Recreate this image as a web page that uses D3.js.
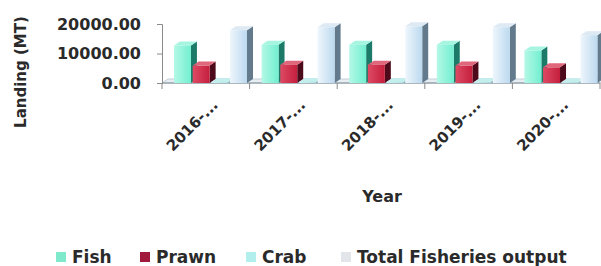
<!DOCTYPE html>
<html>
<head>
<meta charset="utf-8">
<script src="https://cdn.jsdelivr.net/npm/d3@7"></script>
<style>
    body { margin: 0; background: #fff; }
    svg text { font-family: "DejaVu Sans", sans-serif; font-weight: bold; fill: #2a2a2a; }
</style>
</head>
<body>
<div id="chart"></div>
<script>
// Data
const years = ["2016-...", "2017-...", "2018-...", "2019-...", "2020-..."];
const fish = [12700, 13000, 13000, 13000, 11000];
const prawn = [5900, 6200, 6200, 5900, 5300];
const crab = [350, 320, 330, 300, 280];
const total = [17900, 18900, 19200, 18900, 16200];
const yTicks = [0, 10000, 20000];

const series = [
    { name: "Fish", values: fish, front: "#72efd0", light: "#b4f8e6", side: "#1c7a68", top: "#a6f5e0", legend: "#7fe9cc" },
    { name: "Prawn", values: prawn, front: "#c41f3d", light: "#de4a63", side: "#4c0a1a", top: "#e0667c", legend: "#a0183a" },
    { name: "Crab", values: crab, front: "#a8e6e6", light: "#d0f4f4", side: "#6a9ea6", top: "#c4eeee", legend: "#b2eeec" },
    { name: "Total Fisheries output", values: total, front: "#bcd9ef", light: "#eef6fc", side: "#627a8c", top: "#dde9f3", legend: "#e2e6ea" }
];

const width = 601, height = 266;
const dx = 6, dy = -4; // 3D depth offset

const svg = d3.select("#chart").append("svg")
    .attr("width", width)
    .attr("height", height);

const defs = svg.append("defs");
series.forEach((s, i) => {
    const g = defs.append("linearGradient")
        .attr("id", "grad" + i)
        .attr("x1", "0%").attr("x2", "100%");
    g.append("stop").attr("offset", "0%").attr("stop-color", s.light);
    g.append("stop").attr("offset", "100%").attr("stop-color", s.front);
});

// Scales
const x0 = d3.scaleBand()
    .domain(years)
    .range([162, 600]);

const x1 = d3.scaleBand()
    .domain(series.map(s => s.name))
    .range([12, 86])
    .paddingInner(0.04);

const y = d3.scaleLinear()
    .domain([0, 20000])
    .range([83, 24]);

// Floor
const floorY = y(0);
svg.append("path")
    .attr("d", `M${x0.range()[0]},${floorY} L${x0.range()[1]},${floorY} L${x0.range()[1] + dx},${floorY + dy} L${x0.range()[0] + dx},${floorY + dy} Z`)
    .attr("fill", "#e6eef3")
    .attr("stroke", "#c4ced6");
svg.append("line")
    .attr("x1", x0.range()[0]).attr("x2", x0.range()[1])
    .attr("y1", floorY).attr("y2", floorY)
    .attr("stroke", "#9aa6ae")
    .attr("stroke-width", 1.5);

// Y axis
const yAxis = svg.append("g")
    .attr("transform", `translate(${x0.range()[0]},0)`)
    .call(d3.axisLeft(y).tickValues(yTicks).tickFormat(d3.format(".2f")).tickSize(5).tickPadding(16));
yAxis.select(".domain").attr("stroke", "#8a8a8a");
yAxis.selectAll(".tick line").attr("stroke", "#8a8a8a");
yAxis.selectAll(".tick text")
    .style("font-size", "16px")
    .style("font-family", "DejaVu Sans")
    .style("font-weight", "bold")
    .attr("fill", "#2a2a2a");

// Group boundary ticks on x axis
const bounds = years.map(d => x0(d)).concat([x0.range()[1]]);
svg.selectAll(".xtick")
    .data(bounds)
    .join("line")
    .attr("class", "xtick")
    .attr("x1", d => d).attr("x2", d => d)
    .attr("y1", floorY).attr("y2", floorY + 6)
    .attr("stroke", "#8a8a8a");

// Bars drawn as simple 3D boxes
years.forEach((yr, gi) => {
    series.forEach((s, si) => {
        const bx = x0(yr) + x1(s.name);
        const bw = x1.bandwidth() - 1;
        const top = y(s.values[gi]);
        const base = floorY;
        const g = svg.append("g").attr("class", "bar");
        // side face
        g.append("path")
            .attr("d", `M${bx + bw},${top} L${bx + bw + dx},${top + dy} L${bx + bw + dx},${base + dy} L${bx + bw},${base} Z`)
            .attr("fill", s.side);
        // top face
        g.append("path")
            .attr("d", `M${bx},${top} L${bx + dx},${top + dy} L${bx + bw + dx},${top + dy} L${bx + bw},${top} Z`)
            .attr("fill", s.top);
        // front face
        g.append("rect")
            .attr("x", bx)
            .attr("y", top)
            .attr("width", bw)
            .attr("height", base - top)
            .attr("fill", `url(#grad${si})`);
    });
});

// X labels rotated
svg.selectAll(".xlabel")
    .data(years)
    .join("text")
    .attr("class", "xlabel")
    .attr("transform", d => `translate(${x0(d) + x0.bandwidth() / 2 + 13},106) rotate(-45)`)
    .attr("text-anchor", "end")
    .style("font-size", "15px")
    .text(d => d);

// Axis titles
svg.append("text")
    .attr("x", 382)
    .attr("y", 202)
    .attr("text-anchor", "middle")
    .style("font-size", "16px")
    .text("Year");

svg.append("text")
    .attr("transform", "translate(26,72) rotate(-90)")
    .attr("text-anchor", "middle")
    .style("font-size", "15px")
    .text("Landing (MT)");

// Legend
const legendX = [56, 140, 246, 341];
const legend = svg.append("g").attr("class", "legend");
series.forEach((s, i) => {
    const row = legend.append("g").attr("transform", `translate(${legendX[i]},263)`);
    row.append("rect")
        .attr("x", 0)
        .attr("y", -11)
        .attr("width", 10)
        .attr("height", 10)
        .attr("fill", s.legend);
    row.append("text")
        .attr("x", 16)
        .attr("y", 0)
        .style("font-size", "17px")
        .text(s.name);
});
</script>
</body>
</html>
